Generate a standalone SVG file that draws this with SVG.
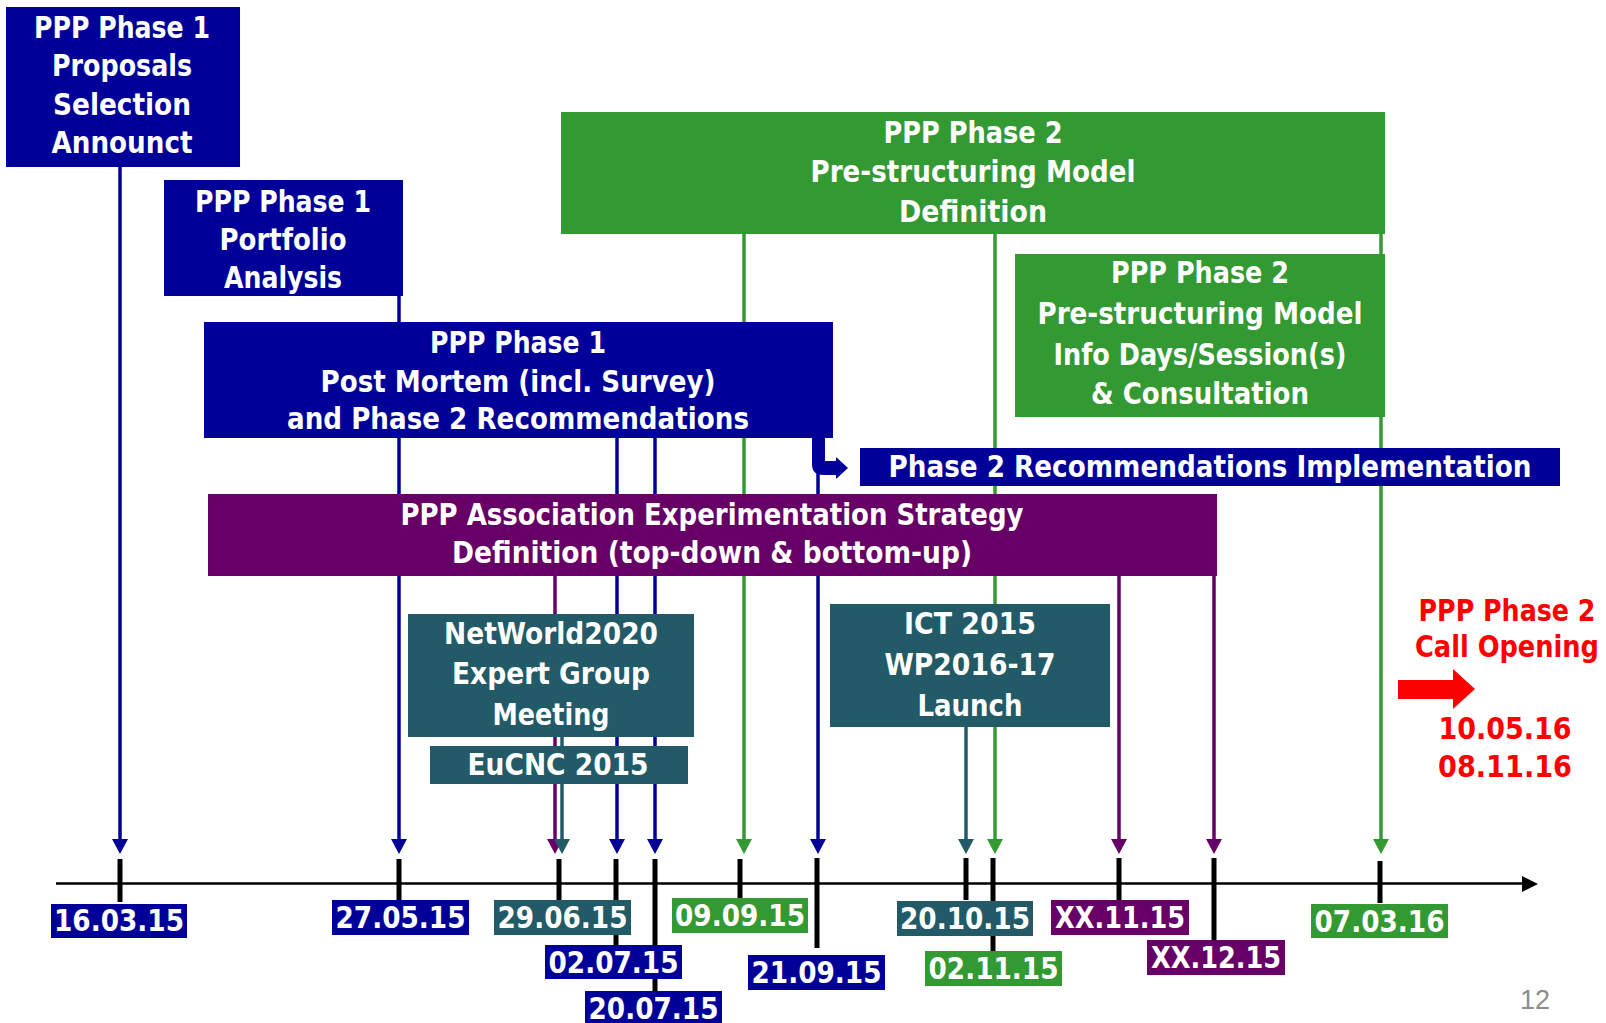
<svg xmlns="http://www.w3.org/2000/svg" width="1606" height="1023" viewBox="0 0 1606 1023">
<style>
.bl{fill:#000099}.gr{fill:#339933}.pu{fill:#660066}.te{fill:#225a68}
.t{font-family:'DejaVu Sans Condensed','DejaVu Sans',sans-serif;font-weight:bold;font-size:30px;fill:#fff;text-anchor:middle}
.d{font-family:'DejaVu Sans Condensed','DejaVu Sans',sans-serif;font-weight:bold;font-size:30px;fill:#fff;text-anchor:middle}
.r{font-family:'DejaVu Sans Condensed','DejaVu Sans',sans-serif;font-weight:bold;font-size:30px;fill:#ff0000;text-anchor:middle}
.c{fill:none;stroke-width:3.5}
.cb{stroke:#000099}.cg{stroke:#339933}.cp{stroke:#660066}.ct{stroke:#225a68}
.tick{fill:#000}
</style>
<defs>
<marker id="ab" viewBox="0 0 15 16" refX="0" refY="8" markerWidth="15" markerHeight="16" markerUnits="userSpaceOnUse" orient="auto"><path d="M0,0 L15,8 L0,16 z" fill="#000099"/></marker>
<marker id="ag" viewBox="0 0 15 16" refX="0" refY="8" markerWidth="15" markerHeight="16" markerUnits="userSpaceOnUse" orient="auto"><path d="M0,0 L15,8 L0,16 z" fill="#339933"/></marker>
<marker id="ap" viewBox="0 0 15 16" refX="0" refY="8" markerWidth="15" markerHeight="16" markerUnits="userSpaceOnUse" orient="auto"><path d="M0,0 L15,8 L0,16 z" fill="#660066"/></marker>
<marker id="at" viewBox="0 0 15 16" refX="0" refY="8" markerWidth="15" markerHeight="16" markerUnits="userSpaceOnUse" orient="auto"><path d="M0,0 L15,8 L0,16 z" fill="#225a68"/></marker>
</defs>
<rect width="1606" height="1023" fill="#fff"/>
<g id="connectors">
<line class="c cb" x1="120" y1="167" x2="120" y2="839" marker-end="url(#ab)"/>
<line class="c cb" x1="399" y1="296" x2="399" y2="839" marker-end="url(#ab)"/>
<line class="c cb" x1="617" y1="438" x2="617" y2="839" marker-end="url(#ab)"/>
<line class="c cb" x1="655" y1="438" x2="655" y2="839" marker-end="url(#ab)"/>
<line class="c cb" x1="818" y1="438" x2="818" y2="839" marker-end="url(#ab)"/>
<line class="c cg" x1="744" y1="234" x2="744" y2="839" marker-end="url(#ag)"/>
<line class="c cg" x1="995" y1="234" x2="995" y2="839" marker-end="url(#ag)"/>
<line class="c cg" x1="1381" y1="234" x2="1381" y2="839" marker-end="url(#ag)"/>
<line class="c cp" x1="555" y1="576" x2="555" y2="839" marker-end="url(#ap)"/>
<line class="c cp" x1="1119" y1="576" x2="1119" y2="839" marker-end="url(#ap)"/>
<line class="c cp" x1="1214" y1="576" x2="1214" y2="839" marker-end="url(#ap)"/>
<line class="c ct" x1="562" y1="736" x2="562" y2="839" marker-end="url(#at)"/>
<line class="c ct" x1="966" y1="726" x2="966" y2="839" marker-end="url(#at)"/>
<path class="bl" d="M812,438 L825,438 L825,461 L836,461 L836,457 L848,468 L836,479 L836,475 L823,475 Q812,475 812,464 Z"/>
</g>
<g id="n-proposals">
<rect class="bl" x="6" y="7" width="234" height="160"/>
<text class="t" x="122" y="38" textLength="176" lengthAdjust="spacingAndGlyphs">PPP Phase 1</text>
<text class="t" x="122" y="76" textLength="140" lengthAdjust="spacingAndGlyphs">Proposals</text>
<text class="t" x="122" y="115" textLength="138" lengthAdjust="spacingAndGlyphs">Selection</text>
<text class="t" x="122" y="153" textLength="141" lengthAdjust="spacingAndGlyphs">Announct</text>
</g>
<g id="n-portfolio">
<rect class="bl" x="164" y="180" width="239" height="116"/>
<text class="t" x="283" y="212" textLength="176" lengthAdjust="spacingAndGlyphs">PPP Phase 1</text>
<text class="t" x="283" y="250" textLength="127" lengthAdjust="spacingAndGlyphs">Portfolio</text>
<text class="t" x="283" y="288" textLength="118" lengthAdjust="spacingAndGlyphs">Analysis</text>
</g>
<g id="n-postmortem">
<rect class="bl" x="204" y="322" width="629" height="116"/>
<text class="t" x="518" y="353" textLength="176" lengthAdjust="spacingAndGlyphs">PPP Phase 1</text>
<text class="t" x="518" y="392" textLength="395" lengthAdjust="spacingAndGlyphs">Post Mortem (incl. Survey)</text>
<text class="t" x="518" y="429" textLength="462" lengthAdjust="spacingAndGlyphs">and Phase 2 Recommendations</text>
</g>
<g id="n-p2-definition">
<rect class="gr" x="561" y="112" width="824" height="122"/>
<text class="t" x="973" y="143" textLength="179" lengthAdjust="spacingAndGlyphs">PPP Phase 2</text>
<text class="t" x="973" y="182" textLength="325" lengthAdjust="spacingAndGlyphs">Pre-structuring Model</text>
<text class="t" x="973" y="222" textLength="148" lengthAdjust="spacingAndGlyphs">Definition</text>
</g>
<g id="n-p2-info">
<rect class="gr" x="1015" y="254" width="370" height="163"/>
<text class="t" x="1200" y="283" textLength="178" lengthAdjust="spacingAndGlyphs">PPP Phase 2</text>
<text class="t" x="1200" y="324" textLength="325" lengthAdjust="spacingAndGlyphs">Pre-structuring Model</text>
<text class="t" x="1200" y="365" textLength="293" lengthAdjust="spacingAndGlyphs">Info Days/Session(s)</text>
<text class="t" x="1200" y="404" textLength="218" lengthAdjust="spacingAndGlyphs">&amp; Consultation</text>
</g>
<g id="n-rec-impl">
<rect class="bl" x="860" y="448" width="700" height="38"/>
<text class="t" x="1210" y="477" textLength="643" lengthAdjust="spacingAndGlyphs">Phase 2 Recommendations Implementation</text>
</g>
<g id="n-association">
<rect class="pu" x="208" y="494" width="1009" height="82"/>
<text class="t" x="712" y="525" textLength="623" lengthAdjust="spacingAndGlyphs">PPP Association Experimentation Strategy</text>
<text class="t" x="712" y="563" textLength="520" lengthAdjust="spacingAndGlyphs">Definition (top-down &amp; bottom-up)</text>
</g>
<g id="n-networld">
<rect class="te" x="408" y="614" width="286" height="123"/>
<text class="t" x="551" y="644" textLength="214" lengthAdjust="spacingAndGlyphs">NetWorld2020</text>
<text class="t" x="551" y="684" textLength="198" lengthAdjust="spacingAndGlyphs">Expert Group</text>
<text class="t" x="551" y="725" textLength="117" lengthAdjust="spacingAndGlyphs">Meeting</text>
</g>
<g id="n-eucnc">
<rect class="te" x="430" y="746" width="258" height="38"/>
<text class="t" x="558" y="775" textLength="181" lengthAdjust="spacingAndGlyphs">EuCNC 2015</text>
</g>
<g id="n-ict">
<rect class="te" x="830" y="604" width="280" height="123"/>
<text class="t" x="970" y="634" textLength="132" lengthAdjust="spacingAndGlyphs">ICT 2015</text>
<text class="t" x="970" y="675" textLength="171" lengthAdjust="spacingAndGlyphs">WP2016-17</text>
<text class="t" x="970" y="716" textLength="105" lengthAdjust="spacingAndGlyphs">Launch</text>
</g>
<g id="n-call-opening">
<text class="r" x="1507" y="621" textLength="177" lengthAdjust="spacingAndGlyphs">PPP Phase 2</text>
<text class="r" x="1507" y="657" textLength="184" lengthAdjust="spacingAndGlyphs">Call Opening</text>
<polygon fill="#ff0000" points="1398,680 1453,680 1453,669 1475,689 1453,709 1453,699 1398,699"/>
<text class="r" x="1505" y="739" textLength="133" lengthAdjust="spacingAndGlyphs">10.05.16</text>
<text class="r" x="1505" y="777" textLength="134" lengthAdjust="spacingAndGlyphs">08.11.16</text>
</g>
<g id="timeline">
<line x1="56" y1="883.5" x2="1524" y2="883.5" stroke="#000" stroke-width="2.5"/>
<polygon fill="#000" points="1522,876 1538,884 1522,892"/>
<rect class="tick" x="117.5" y="859" width="5" height="43"/>
<rect class="tick" x="396.5" y="859" width="5" height="41"/>
<rect class="tick" x="556.5" y="859" width="5" height="41"/>
<rect class="tick" x="613.5" y="859" width="5" height="86"/>
<rect class="tick" x="652.5" y="859" width="5" height="132"/>
<rect class="tick" x="737.5" y="859" width="5" height="39"/>
<rect class="tick" x="814.5" y="858" width="5" height="90"/>
<rect class="tick" x="963.5" y="858" width="5" height="42"/>
<rect class="tick" x="990.5" y="858" width="5" height="93"/>
<rect class="tick" x="1116.5" y="858" width="5" height="42"/>
<rect class="tick" x="1211.5" y="858" width="5" height="82"/>
<rect class="tick" x="1377.5" y="861" width="5" height="42"/>
</g>
<g id="d-160315"><rect class="bl" x="51" y="904" width="136" height="34"/><text class="d" x="119" y="931" textLength="130" lengthAdjust="spacingAndGlyphs">16.03.15</text></g>
<g id="d-270515"><rect class="bl" x="332" y="900" width="137" height="35"/><text class="d" x="400.5" y="928" textLength="130" lengthAdjust="spacingAndGlyphs">27.05.15</text></g>
<g id="d-290615"><rect class="te" x="494" y="900" width="137" height="35"/><text class="d" x="562.5" y="928" textLength="130" lengthAdjust="spacingAndGlyphs">29.06.15</text></g>
<g id="d-020715"><rect class="bl" x="545" y="945" width="137" height="34"/><text class="d" x="613.5" y="973" textLength="130" lengthAdjust="spacingAndGlyphs">02.07.15</text></g>
<g id="d-200715"><rect class="bl" x="585" y="991" width="137" height="32"/><text class="d" x="653.5" y="1019" textLength="130" lengthAdjust="spacingAndGlyphs">20.07.15</text></g>
<g id="d-090915"><rect class="gr" x="672" y="898" width="136" height="35"/><text class="d" x="740" y="926" textLength="130" lengthAdjust="spacingAndGlyphs">09.09.15</text></g>
<g id="d-210915"><rect class="bl" x="748" y="955" width="137" height="35"/><text class="d" x="816.5" y="983" textLength="130" lengthAdjust="spacingAndGlyphs">21.09.15</text></g>
<g id="d-201015"><rect class="te" x="897" y="901" width="136" height="35"/><text class="d" x="965" y="929" textLength="130" lengthAdjust="spacingAndGlyphs">20.10.15</text></g>
<g id="d-021115"><rect class="gr" x="925" y="951" width="137" height="35"/><text class="d" x="993.5" y="979" textLength="130" lengthAdjust="spacingAndGlyphs">02.11.15</text></g>
<g id="d-xx1115"><rect class="pu" x="1051" y="900" width="138" height="35"/><text class="d" x="1120" y="928" textLength="130" lengthAdjust="spacingAndGlyphs">XX.11.15</text></g>
<g id="d-xx1215"><rect class="pu" x="1147" y="940" width="138" height="35"/><text class="d" x="1216" y="968" textLength="130" lengthAdjust="spacingAndGlyphs">XX.12.15</text></g>
<g id="d-070316"><rect class="gr" x="1311" y="904" width="137" height="34"/><text class="d" x="1379.5" y="932" textLength="130" lengthAdjust="spacingAndGlyphs">07.03.16</text></g>
<text x="1520" y="1009" font-family="'Liberation Sans',sans-serif" font-size="27" fill="#8c8c8c">12</text>
</svg>
